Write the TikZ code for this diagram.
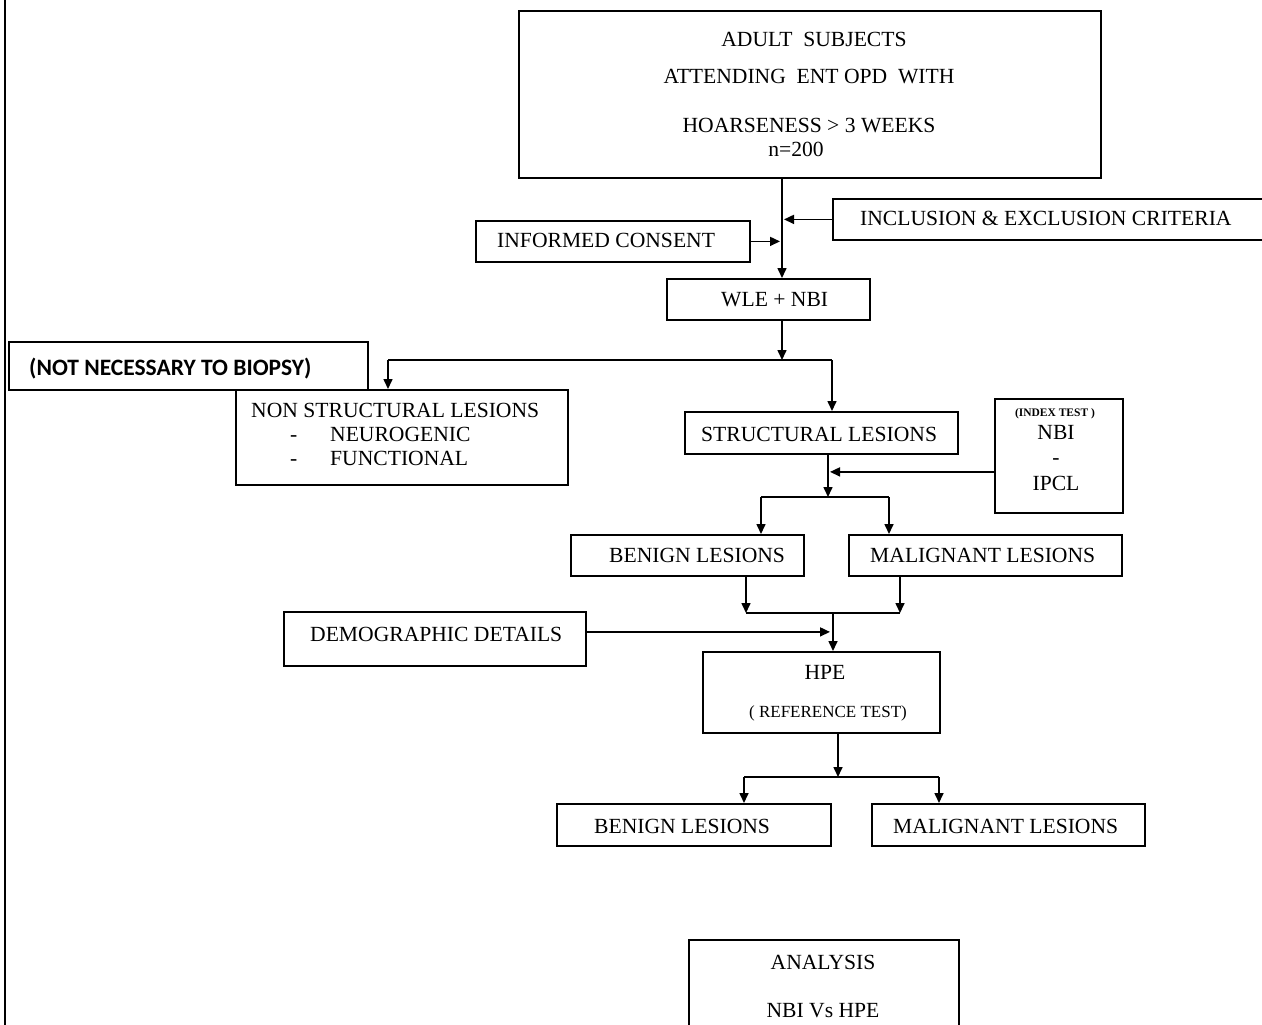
\documentclass[tikz,border=0pt]{standalone}
\usepackage{fontspec}
\setmainfont{Liberation Serif}
\newfontfamily\calibfont{Carlito}
\usetikzlibrary{arrows.meta,calc}
\begin{document}
\begin{tikzpicture}[x=1pt,y=-1pt,
  box/.style={draw, line width=1.8pt, inner sep=0pt, anchor=north west},
  txt/.style={inner sep=0pt, font=\fontsize{21.6}{25}\selectfont},
  small/.style={inner sep=0pt, font=\fontsize{17}{20}\selectfont},
  tiny/.style={inner sep=0pt, font=\fontsize{11.5}{13}\selectfont\bfseries},
  link/.style={line width=1.6pt},
  arr/.style={link, -{Triangle[length=10pt,width=9pt]}}]
\useasboundingbox (0,0) rectangle (1262,1025);
\clip (0,0) rectangle (1262,1025);
\fill[white] (0,0) rectangle (1262,1025);

% page edge line
\draw[line width=2pt] (5,0) -- (5,1025);

% boxes
\node[box, minimum width=582pt, minimum height=167pt] (top) at (518,10) {};
\node[box, minimum width=460pt, minimum height=41pt] (incl) at (832,198) {};
\node[box, minimum width=274pt, minimum height=41pt] (informed) at (475,220) {};
\node[box, minimum width=203pt, minimum height=41pt] (wle) at (666,278) {};
\node[box, minimum width=359pt, minimum height=48pt] (notnec) at (8,341) {};
\node[box, minimum width=332pt, minimum height=95pt] (nonstruct) at (235,389) {};
\node[box, minimum width=273pt, minimum height=42pt] (struct) at (684,411) {};
\node[box, minimum width=128pt, minimum height=114pt] (nbi) at (994,398) {};
\node[box, minimum width=233pt, minimum height=41pt] (benignA) at (570,534) {};
\node[box, minimum width=273pt, minimum height=41pt] (maligA) at (848,534) {};
\node[box, minimum width=302pt, minimum height=54pt] (demo) at (283,611) {};
\node[box, minimum width=237pt, minimum height=81pt] (hpe) at (702,651) {};
\node[box, minimum width=274pt, minimum height=42pt] (benignB) at (556,803) {};
\node[box, minimum width=273pt, minimum height=42pt] (maligB) at (871,803) {};
\node[box, minimum width=270pt, minimum height=120pt] (analysis) at (688,939) {};

% texts
\node[txt, anchor=base] (t1) at (814,47) {ADULT~ SUBJECTS};
\node[txt, anchor=base] (t2) at (809,84) {ATTENDING~ ENT OPD~ WITH};
\node[txt, anchor=base] (t3) at (809,132) {HOARSENESS > 3 WEEKS};
\node[txt, anchor=base] (t4) at (796,157) {n=200};
\node[txt, anchor=base west] (t5) at (860,225) {INCLUSION \& EXCLUSION CRITERIA};
\node[txt, anchor=base west] (t6) at (497,247) {INFORMED CONSENT};
\node[txt, anchor=base west] (t7) at (721,306) {WLE + NBI};
\node[inner sep=0pt, anchor=base west, font=\calibfont\bfseries\fontsize{23.5}{28}\selectfont] (t8) at (29,375) {(NOT NECESSARY TO BIOPSY)};
\node[txt, anchor=base west] (t9) at (251,417) {NON STRUCTURAL LESIONS};
\node[txt, anchor=base west] (t10a) at (290,441) {-};
\node[txt, anchor=base west] (t10) at (330,441) {NEUROGENIC};
\node[txt, anchor=base west] (t11a) at (290,465) {-};
\node[txt, anchor=base west] (t11) at (330,465) {FUNCTIONAL};
\node[txt, anchor=base west] (t12) at (701,441) {STRUCTURAL LESIONS};
\node[tiny, anchor=base] (t13) at (1055,416) {(INDEX TEST )};
\node[txt, anchor=base] (t14) at (1056,439) {NBI};
\node[txt, anchor=base] (t15) at (1056,464) {-};
\node[txt, anchor=base] (t16) at (1056,490) {IPCL};
\node[txt, anchor=base west] (t17) at (609,562) {BENIGN LESIONS};
\node[txt, anchor=base west] (t18) at (870,562) {MALIGNANT LESIONS};
\node[txt, anchor=base west] (t19) at (310,641) {DEMOGRAPHIC DETAILS};
\node[txt, anchor=base] (t20) at (825,679) {HPE};
\node[small, anchor=base] (t21) at (828,717) {( REFERENCE TEST)};
\node[txt, anchor=base west] (t22) at (594,833) {BENIGN LESIONS};
\node[txt, anchor=base west] (t23) at (893,833) {MALIGNANT LESIONS};
\node[txt, anchor=base] (t24) at (823,969) {ANALYSIS};
\node[txt, anchor=base] (t25) at (823,1017) {NBI Vs HPE};

% junction coordinates
\coordinate (trunk) at (782,177);
\coordinate (j1) at (782,360);
\coordinate (j1l) at (388,360);
\coordinate (j1r) at (832,360);
\coordinate (j2) at (828,497);
\coordinate (j2l) at (761,497);
\coordinate (j2r) at (889,497);
\coordinate (j3l) at (746,613);
\coordinate (j3r) at (900,613);
\coordinate (j3) at (833,613);
\coordinate (j4) at (838,777);
\coordinate (j4l) at (744,777);
\coordinate (j4r) at (939,777);

% connectors
\draw[arr] (trunk) -- (trunk |- wle.north);
\draw[arr] (incl.west) -- ([xshift=2pt]incl.west -| trunk);
\draw[arr] (informed.east) -- ([xshift=-2pt]informed.east -| trunk);
\draw[arr] (trunk |- wle.south) -- (j1);
\draw[link] (j1l) -- (j1r);
\draw[arr] (j1l) -- (j1l |- nonstruct.north);
\draw[arr] (j1r) -- (j1r |- struct.north);

\draw[arr] (j2 |- struct.south) -- (j2);
\draw[arr] ([yshift=-16pt]nbi.west) -- ([yshift=-16pt,xshift=2pt]nbi.west -| j2);
\draw[link] (j2l) -- (j2r);
\draw[arr] (j2l) -- (j2l |- benignA.north);
\draw[arr] (j2r) -- (j2r |- maligA.north);

\draw[arr] (j3l |- benignA.south) -- (j3l);
\draw[arr] (j3r |- maligA.south) -- (j3r);
\draw[link] (j3l) -- (j3r);
\draw[arr] (j3) -- (j3 |- hpe.north);
\draw[arr] ([yshift=7pt]demo.east) -- ([yshift=7pt,xshift=-3pt]demo.east -| j3);

\draw[arr] (j4 |- hpe.south) -- (j4);
\draw[link] (j4l) -- (j4r);
\draw[arr] (j4l) -- (j4l |- benignB.north);
\draw[arr] (j4r) -- (j4r |- maligB.north);
\end{tikzpicture}
\end{document}
